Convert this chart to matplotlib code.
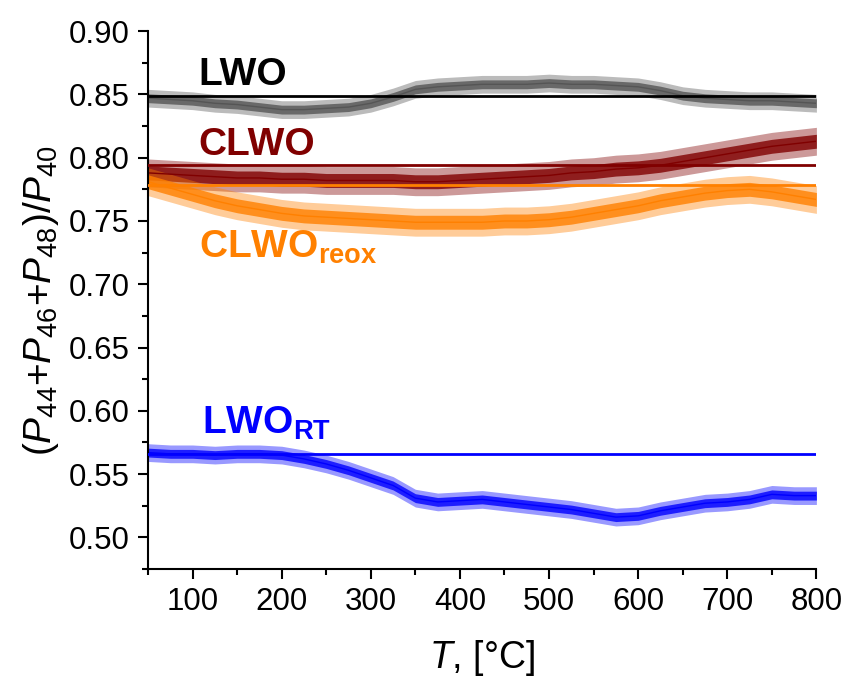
import numpy as np
import matplotlib
matplotlib.use("Agg")
import matplotlib.pyplot as plt
from matplotlib.ticker import MultipleLocator

plt.rcParams['font.family'] = ['Liberation Sans', 'DejaVu Sans']
plt.rcParams['mathtext.fontset'] = 'custom'
plt.rcParams['mathtext.rm'] = 'Liberation Sans'
plt.rcParams['mathtext.it'] = 'Liberation Sans:italic'
plt.rcParams['mathtext.bf'] = 'Liberation Sans:bold'

# temperature grid, degC
T = [50, 75, 100, 125, 150, 175, 200, 225, 250, 275, 300, 325, 350, 375, 400, 425,
     450, 475, 500, 525, 550, 575, 600, 625, 650, 675, 700, 725, 750, 775, 800]

# mean of the noisy traces
lwo = [0.847, 0.846, 0.845, 0.843, 0.842, 0.840, 0.838, 0.838, 0.839, 0.840, 0.843, 0.848, 0.854, 0.856, 0.857, 0.858,
       0.858, 0.858, 0.859, 0.858, 0.858, 0.857, 0.856, 0.853, 0.849, 0.847, 0.846, 0.845, 0.845, 0.844, 0.843]
clwo = [0.788, 0.787, 0.786, 0.785, 0.784, 0.784, 0.783, 0.783, 0.782, 0.782, 0.782, 0.782, 0.781, 0.781, 0.782, 0.783,
        0.784, 0.785, 0.786, 0.788, 0.789, 0.791, 0.792, 0.794, 0.797, 0.800, 0.803, 0.806, 0.809, 0.811, 0.813]
clwo_reox = [0.781, 0.776, 0.771, 0.766, 0.762, 0.759, 0.756, 0.754, 0.753, 0.752, 0.751, 0.750, 0.749, 0.749, 0.749, 0.749,
             0.750, 0.750, 0.751, 0.753, 0.756, 0.759, 0.762, 0.766, 0.769, 0.772, 0.774, 0.775, 0.773, 0.770, 0.767]
lwo_rt = [0.567, 0.566, 0.566, 0.565, 0.566, 0.566, 0.565, 0.562, 0.558, 0.553, 0.547, 0.541, 0.531, 0.528, 0.529, 0.530,
          0.528, 0.526, 0.524, 0.522, 0.519, 0.516, 0.517, 0.521, 0.524, 0.527, 0.528, 0.530, 0.534, 0.533, 0.533]

# half width of the noise band of each trace
spread = {'lwo': 0.007, 'clwo': 0.011, 'clwo_reox': 0.011, 'lwo_rt': 0.007}

# room temperature reference levels (horizontal lines)
ref_lwo = 0.8485
ref_clwo = 0.794
ref_clwo_reox = 0.7785
ref_lwo_rt = 0.566

fig = plt.figure(figsize=(8.46, 6.77), dpi=100)
ax = fig.add_axes([0.175, 0.1595, 0.79, 0.7945])

series = [
    (lwo, 'lwo', '#555555', 'black', ref_lwo),
    (clwo, 'clwo', '#800000', '#800000', ref_clwo),
    (clwo_reox, 'clwo_reox', '#ff8000', '#ff8000', ref_clwo_reox),
    (lwo_rt, 'lwo_rt', '#0000ff', '#0000ff', ref_lwo_rt),
]
for y, key, col, refcol, ref in series:
    y = np.array(y)
    s = spread[key]
    ax.fill_between(T, y - s, y + s, color=col, alpha=0.4, lw=0)
    ax.fill_between(T, y - s / 2, y + s / 2, color=col, alpha=0.8, lw=0)
    ax.plot(T, y, color=col, lw=1.0)
for y, key, col, refcol, ref in series:
    ax.plot([T[0], T[-1]], [ref, ref], color=refcol, lw=2, zorder=4)

ax.text(106, 0.8578, 'LWO', fontsize=28, fontweight='bold', color='black')
ax.text(107, 0.8025, 'CLWO', fontsize=28, fontweight='bold', color='#800000')
ax.text(107, 0.721, r'$\mathbf{CLWO}_{\mathbf{reox}}$', fontsize=28, color='#ff8000')
ax.text(111, 0.5817, r'$\mathbf{LWO}_{\mathbf{RT}}$', fontsize=28, color='#0000ff')

ax.set_xlim(50, 800)
ax.set_ylim(0.475, 0.90)
ax.xaxis.set_major_locator(MultipleLocator(100))
ax.xaxis.set_minor_locator(MultipleLocator(50))
ax.yaxis.set_minor_locator(MultipleLocator(0.025))
ax.set_yticks(np.arange(0.50, 0.901, 0.05))
ax.set_yticklabels(['%.2f' % v for v in np.arange(0.50, 0.901, 0.05)])

for side in ['top', 'right']:
    ax.spines[side].set_visible(False)
for side in ['left', 'bottom']:
    ax.spines[side].set_linewidth(1.5)
ax.tick_params(which='major', direction='out', length=7, width=1.5, labelsize=22.5, pad=6)
ax.tick_params(which='minor', direction='out', length=4, width=1.5)

ax.set_xlabel(r'$T$, [°C]', fontsize=27, labelpad=15)
ax.set_ylabel(r'$(P_{44}$+$P_{46}$+$P_{48})/P_{40}$', fontsize=28, labelpad=6)

plt.savefig('out.png', dpi=100)
